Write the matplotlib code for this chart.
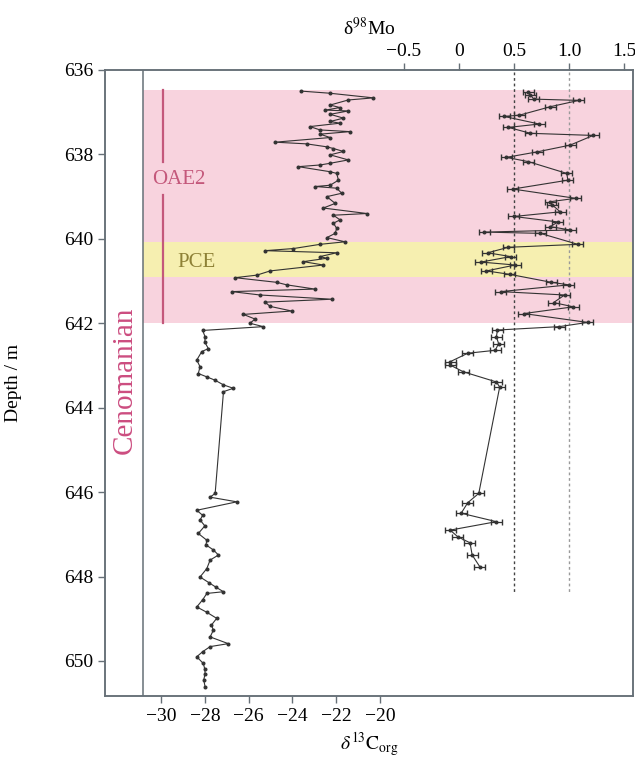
import numpy as np
import matplotlib
matplotlib.use('Agg')
import matplotlib.pyplot as plt

plt.rcParams['font.family'] = ['Liberation Serif', 'DejaVu Serif']
plt.rcParams['mathtext.fontset'] = 'stix'

# d13C_org record (depth in m, value in permil)
c_depth = [636.50, 636.55, 636.66, 636.71, 636.83, 636.89, 636.95, 636.97, 637.05, 637.14,
           637.22, 637.26, 637.34, 637.42, 637.46, 637.52, 637.60, 637.71, 637.75, 637.82,
           637.86, 637.93, 638.01, 638.13, 638.21, 638.25, 638.29, 638.41, 638.45, 638.61,
           638.73, 638.76, 638.80, 638.92, 639.00, 639.16, 639.27, 639.40, 639.44, 639.55,
           639.63, 639.75, 639.87, 639.97, 640.07, 640.13, 640.23, 640.28, 640.33, 640.42,
           640.46, 640.54, 640.62, 640.76, 640.86, 640.92, 641.03, 641.09, 641.19, 641.25,
           641.33, 641.43, 641.50, 641.60, 641.71, 641.79, 641.90, 642.00, 642.08, 642.17,
           642.32, 642.45, 642.60, 642.67, 642.87, 643.03, 643.19, 643.27, 643.35, 643.46,
           643.54, 643.62, 646.03, 646.12, 646.23, 646.43, 646.55, 646.66, 646.80, 646.98,
           647.14, 647.25, 647.37, 647.49, 647.61, 647.81, 648.01, 648.15, 648.25, 648.36,
           648.40, 648.55, 648.72, 648.85, 648.99, 649.15, 649.27, 649.43, 649.59, 649.66,
           649.78, 649.90, 650.06, 650.20, 650.30, 650.45, 650.61]
c_val = [-23.6, -22.3, -20.3, -21.45, -22.28, -21.83, -22.5, -21.45, -22.28, -21.67,
         -22.28, -21.83, -23.2, -22.74, -21.37, -22.74, -22.28, -24.79, -23.35, -22.43,
         -22.13, -21.67, -22.28, -21.45, -22.28, -22.74, -23.73, -22.28, -21.98, -21.9,
         -22.28, -22.95, -21.98, -21.75, -22.43, -22.05, -22.59, -20.6, -22.13, -21.83,
         -22.13, -21.98, -22.05, -22.43, -21.6, -22.74, -23.96, -25.25, -21.98, -22.74,
         -22.43, -23.5, -22.59, -25.02, -25.63, -26.62, -24.72, -24.26, -22.97, -26.77,
         -25.48, -22.2, -25.25, -25.02, -24.03, -26.24, -25.71, -25.94, -25.33, -28.1,
         -27.99, -28.0, -27.84, -28.14, -28.37, -28.22, -28.3, -27.91, -27.53, -27.15,
         -26.7, -27.15, -27.53, -27.76, -26.54, -28.37, -28.1, -28.22, -28.0, -28.3,
         -27.91, -27.95, -27.61, -27.38, -27.76, -27.91, -28.22, -27.8, -27.5, -27.15,
         -27.91, -28.1, -28.37, -27.9, -27.46, -27.7, -27.61, -27.76, -26.93, -27.76,
         -28.1, -28.37, -28.07, -28.0, -27.99, -28.05, -27.99]

# d98Mo record
mo_depth = [636.51, 636.59, 636.69, 636.72, 636.87, 637.07, 637.10, 637.28, 637.36, 637.50,
            637.55, 637.78, 637.94, 638.07, 638.17, 638.45, 638.61, 638.82, 639.04, 639.12,
            639.20, 639.36, 639.47, 639.60, 639.71, 639.79, 639.84, 639.87, 640.13, 640.20,
            640.33, 640.42, 640.55, 640.62, 640.76, 640.84, 641.03, 641.09, 641.25, 641.33,
            641.51, 641.61, 641.77, 641.98, 642.08, 642.16, 642.32, 642.48, 642.64, 642.71,
            642.91, 642.99, 643.15, 643.39, 643.51, 646.03, 646.25, 646.50, 646.70, 646.90,
            647.06, 647.20, 647.49, 647.77]
mo_val = [0.63, 0.65, 0.68, 1.09, 0.83, 0.55, 0.41, 0.73, 0.45, 0.65,
          1.22, 1.01, 0.71, 0.43, 0.63, 0.98, 0.99, 0.49, 1.06, 0.83,
          0.85, 0.92, 0.50, 0.90, 0.83, 1.01, 0.23, 0.74, 1.08, 0.45,
          0.26, 0.47, 0.20, 0.51, 0.25, 0.46, 0.84, 1.00, 0.38, 0.96,
          0.86, 1.04, 0.59, 1.17, 0.91, 0.35, 0.34, 0.36, 0.33, 0.08,
          -0.08, -0.08, 0.04, 0.34, 0.37, 0.18, 0.08, 0.02, 0.34, -0.08,
          -0.01, 0.10, 0.12, 0.19]
mo_err = 0.05

# intervals
oae2_top, oae2_bot = 636.47, 642.0
pce_top, pce_bot = 640.08, 640.9
ref_lines = [0.5, 1.0]

fig = plt.figure(figsize=(6.35, 7.69), dpi=100)
ax = fig.add_axes([105/635, 1-696/769, 528/635, 626/769])

frame = '#667077'
inner_x = -30.84
ax.set_xlim(-32.56, -8.45)
ax.set_ylim(650.83, 636)

# shaded intervals
xfrac = (inner_x + 32.56) / (32.56 - 8.45)
ax.axhspan(oae2_top, oae2_bot, xmin=xfrac, xmax=1, color='#f8d3de', lw=0, zorder=0)
ax.axhspan(pce_top, pce_bot, xmin=xfrac, xmax=1, color='#f6efb0', lw=0, zorder=0)
ax.axvline(inner_x, color=frame, lw=1.1, zorder=1)

# OAE2 bar and labels
ax.plot([-29.91, -29.91], [oae2_top, 638.18], color='#c4587b', lw=1.6)
ax.plot([-29.91, -29.91], [638.96, oae2_bot], color='#c4587b', lw=1.6)
ax.text(-29.18, 638.6, 'OAE2', color='#c4587b', fontsize=15, ha='center', va='center')
ax.text(-28.37, 640.55, 'PCE', color='#8e8136', fontsize=15, ha='center', va='center')
ax.text(-31.64, 643.35, 'Cenomanian', color='#cc4d80', fontsize=21, rotation=90,
        ha='center', va='center')

ax.plot(c_val, c_depth, '-o', color='#333333', lw=0.8, ms=1.9, zorder=3)

ax.set_xticks([-30, -28, -26, -24, -22, -20])
ax.set_xticklabels(['\u221230', '\u221228', '\u221226', '\u221224', '\u221222', '\u221220'])
ax.set_yticks(np.arange(636, 651, 2))
ax.tick_params(axis='both', labelsize=14, color=frame, length=5, width=1)
ax.set_xlabel(r'$\delta^{13}\mathrm{C}_{\mathrm{org}}$', fontsize=14, labelpad=4)
ax.set_ylabel('Depth / m', fontsize=14, labelpad=30)
for s in ax.spines.values():
    s.set_color(frame)
    s.set_linewidth(1.1)

# Mo on top axis
ax2 = ax.twiny()
ax2.set_xlim(-3.218, 1.582)
for v in ref_lines:
    ax2.plot([v, v], [636.05, 648.4], color='#444444' if v == 0.5 else '#9a9a9a',
             ls=(0, (2, 2)), lw=1.0, zorder=2)
ax2.errorbar(mo_val, mo_depth, xerr=mo_err, fmt='-o', color='#333333', lw=0.8, ms=1.9,
             elinewidth=0.9, capsize=2.2, zorder=3)
ax2.set_xticks([-0.5, 0, 0.5, 1.0, 1.5])
ax2.set_xticklabels(['\u22120.5', '0', '0.5', '1.0', '1.5'])
ax2.tick_params(axis='x', labelsize=14, color=frame, length=5, width=1, pad=2)
ax2.set_xlabel('\u03b4$^{98}$Mo', fontsize=14, labelpad=6)
for s in ax2.spines.values():
    s.set_color(frame)
    s.set_linewidth(1.1)
ax2.set_ylim(650.83, 636)

fig.savefig('out.png', dpi=100)
